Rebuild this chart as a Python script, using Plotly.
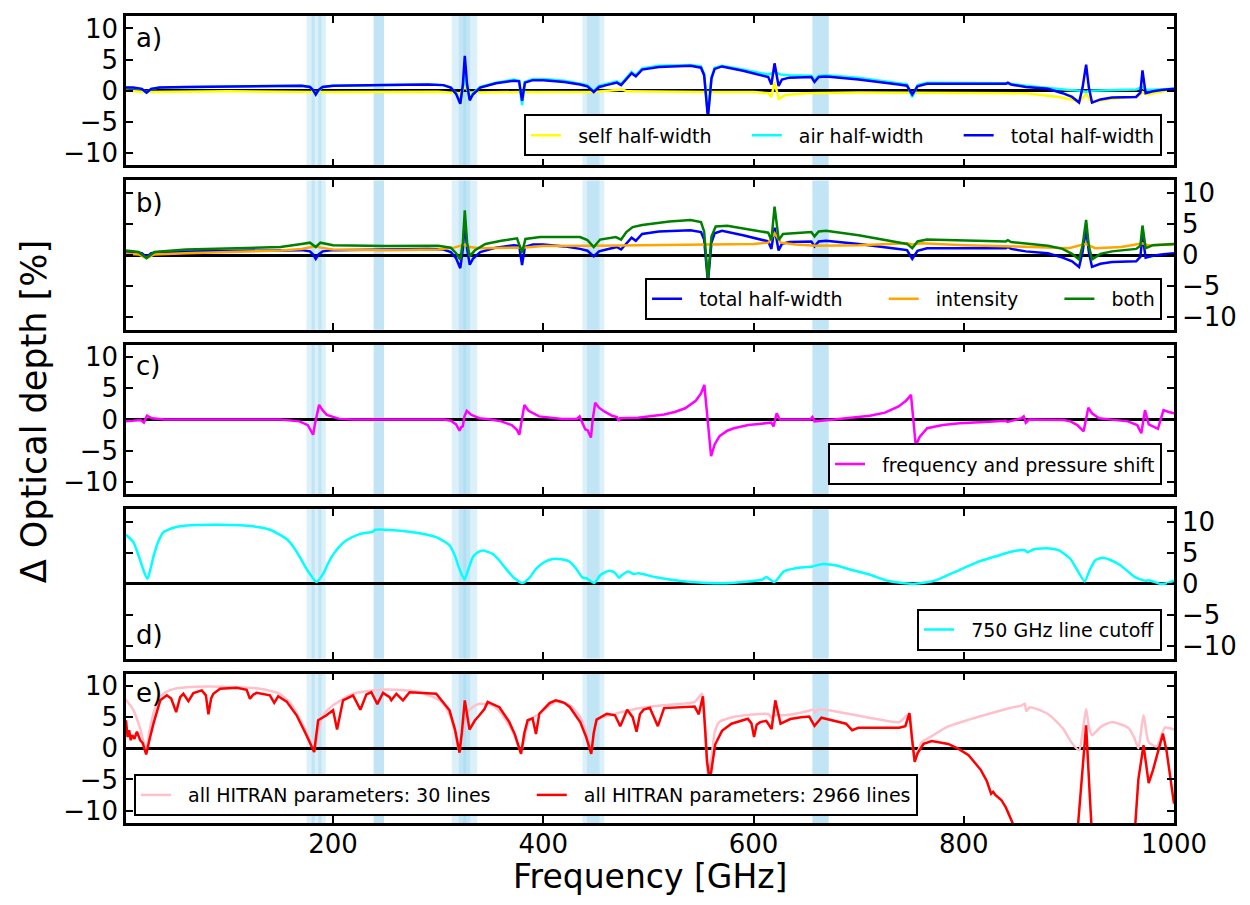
import plotly.graph_objects as go
from plotly.subplots import make_subplots

# ---------------- data ----------------
# panel a / b : total half-width
f_total = [3, 10, 18, 22.5, 27, 35, 60, 100, 150, 170, 178, 181, 183.5, 186, 190, 200, 250, 290, 305, 312, 317, 321,
           323.5, 325.3, 327.5, 330, 333, 340, 355, 372, 377, 379.8, 382.5, 390, 400, 420, 435, 442, 448, 453, 460,
           470, 474, 478, 484, 488, 494, 510, 540, 550, 553, 556.6, 560, 563, 570, 590, 606, 614, 617, 620, 623.8,
           627, 634, 655, 658, 662, 669, 700, 738, 746, 751, 756, 765, 800, 840, 842, 845, 859, 880, 894, 903,
           909.7, 913, 916.4, 919, 922, 930, 941, 964, 968, 970, 973, 980, 988, 1000]
v_total = [0.5, 0.5, 0.3, -0.3, 0.3, 0.5, 0.6, 0.7, 0.8, 0.8, 0.6, 0.1, -0.6, 0.1, 0.6, 0.8, 0.9, 1.0, 0.9, 0.5, -0.5, -2.1,
           1.0, 5.6, 1.0, -1.55, -0.6, 0.5, 1.2, 1.6, 1.5, -1.6, 1.3, 1.7, 1.7, 1.4, 1.0, 0.7, -0.2, 0.6, 0.9,
           1.3, 0.9, 1.6, 2.8, 2.3, 3.4, 3.8, 4.0, 3.7, 2.5, -4.3, 2.0, 3.5, 3.9, 3.2, 2.6, 2.2, 1.0, 4.4, 0.75,
           1.8, 2.1, 2.2, 1.4, 2.2, 2.3, 1.8, 1.0, 0.8, -0.6, 0.7, 1.1, 1.1, 1.1, 1.3, 1.0, 0.6, 0.3, -0.4, -1.0,
           -1.9, 0.5, 4.2, 0.5, -1.9, -1.4, -1.1, -1.0, -0.3, 3.25, -0.4, -0.1, 0.1, 0.3]

f_air = [3, 18, 22.5, 27, 35, 100, 170, 178, 183.5, 190, 200, 290, 305, 312, 317, 321, 323.5, 325.3, 327.5, 330, 333,
         340, 355, 372, 377, 379.8, 382.5, 390, 400, 420, 435, 442, 448, 453, 460, 470, 474, 478, 484, 488, 494, 510,
         540, 550, 553, 556.6, 560, 563, 570, 590, 606, 614, 620, 626, 634, 655, 658, 662, 669, 700, 738, 746, 751,
         756, 765, 800, 840, 859, 880, 900, 912, 916, 920, 940, 964, 970, 973, 985, 1000]
v_air = [0.5, 0.3, -0.3, 0.3, 0.5, 0.7, 0.8, 0.6, -0.5, 0.6, 0.8, 1.0, 0.9, 0.5, -0.4, -1.9, 0.5, 3.0, 0.5, -1.3, -0.4,
         0.6, 1.3, 1.8, 1.6, -2.3, 1.4, 1.9, 1.9, 1.6, 1.2, 0.9, -0.1, 0.8, 1.1, 1.5, 1.1, 1.8, 3.0, 2.5, 3.6, 4.0,
         4.15, 3.9, 2.7, -4.0, 2.2, 3.7, 4.0, 3.4, 2.8, 2.6, 2.9, 2.6, 2.5, 2.4, 1.7, 2.4, 2.5, 2.1, 1.2, 1.0, -1.0,
         0.9, 1.3, 1.3, 1.2, 0.8, 0.4, 0.1, 0.0, -0.2, 0.0, 0.1, 0.2, 0.6, 0.1, 0.2, 0.3]

f_self = [3, 22.5, 100, 183, 300, 321, 325.3, 330, 380, 448, 475, 480, 556, 600, 614, 617, 620, 624, 630, 650, 700,
          751, 800, 860, 890, 905, 909.7, 916.4, 922, 935, 960, 967, 970, 975, 990, 1000]
v_self = [0.0, -0.2, -0.1, -0.2, -0.15, -0.4, 0.6, -0.3, -0.2, -0.2, 0.2, -0.1, -0.2, -0.2, -0.4, -1.0, 1.3, -1.3, -0.7,
          -0.4, -0.3, -0.3, -0.3, -0.4, -1.0, -1.5, -1.9, -0.5, -1.9, -1.4, -1.0, -0.8, -0.2, -0.6, -0.1, 0.0]

# panel b
f_int = [3, 15, 22.5, 30, 60, 100, 150, 170, 180, 183.5, 188, 200, 250, 300, 315, 321, 325.3, 330, 340, 380, 400, 450,
         500, 550, 600, 614, 620, 626, 640, 660, 700, 746, 751, 760, 800, 850, 900, 916, 925, 950, 970, 975, 1000]
v_int = [0.2, 0.1, -0.5, 0.1, 0.3, 0.5, 0.75, 1.0, 1.3, 1.4, 1.2, 0.9, 0.8, 0.9, 1.2, 1.5, 1.7, 1.3, 1.1, 1.2, 1.45,
         1.5, 1.6, 1.75, 1.8, 2.0, 3.5, 2.0, 1.7, 1.5, 1.6, 1.9, 1.7, 1.9, 1.6, 1.4, 1.1, 1.8, 1.1, 1.3, 1.9, 1.6, 1.7]

f_both = [3, 15, 22.5, 30, 60, 100, 150, 170, 178, 183.5, 188, 200, 250, 300, 312, 317, 321, 323.5, 325.3, 327.5, 330,
          335, 345, 360, 375, 379.8, 383, 397, 435, 442, 448, 454, 469, 474, 479, 485, 494, 520, 540, 550, 553, 556.6,
          560, 564, 575, 600, 614, 617, 620, 624, 628, 655, 658, 662, 669, 700, 746, 751, 756, 765, 840, 842, 845,
          880, 894, 903, 909.7, 913, 916.4, 919, 922, 930, 941, 964, 968, 970, 973, 980, 1000]
v_both = [0.75, 0.5, -0.5, 0.5, 0.9, 1.1, 1.3, 1.8, 2.0, 1.3, 2.0, 1.6, 1.45, 1.5, 1.2, 0.3, -0.7, 2.0, 7.2, 2.0, -0.2,
          0.8, 1.8, 2.3, 2.7, 0.4, 2.6, 2.9, 2.9, 2.4, 1.3, 2.5, 2.9, 2.5, 3.7, 4.5, 4.85, 5.4, 5.65, 5.3, 3.8, -4.0,
          3.0, 4.6, 4.7, 4.0, 3.6, 2.4, 7.8, 2.4, 3.4, 3.7, 3.0, 3.8, 3.9, 3.2, 1.8, 1.1, 2.2, 2.5, 2.2, 2.4, 2.1,
          1.5, 1.0, 0.2, -0.7, 1.5, 5.65, 1.5, -0.7, 0.2, 0.6, 1.0, 1.5, 4.75, 1.1, 1.6, 1.8]

# panel c
f_shift = [3, 10, 17, 20, 23, 28, 40, 150, 168, 176, 181, 183, 186.7, 190, 194, 206, 220, 305, 312, 317, 320.3, 322,
           323.4, 325, 327.2, 331, 339, 350, 360, 370, 375, 377.2, 379.5, 382, 386, 396, 418, 432, 434.5, 436.5, 440,
           442, 445.3, 447, 449.4, 453, 458, 465.5, 470, 471.5, 473, 490, 502.8, 515, 525, 535, 545, 550, 553.2, 556,
           559.6, 563, 567.5, 575, 581.2, 595, 608.4, 616.9, 619, 622, 625, 640, 654, 656, 658, 676.5, 700, 710.7,
           725, 738, 745, 749.8, 752, 754.3, 758, 765.2, 780, 796, 820, 840, 841.5, 855, 857, 859, 862, 895, 901.5,
           908, 914, 916, 918.5, 922, 928.7, 945, 956, 965, 968.9, 972.4, 976, 984.7, 990, 995, 1000]
v_shift = [-0.3, -0.2, -0.1, -0.5, 0.6, 0.2, 0.0, 0.0, -0.3, -0.9, -2.45, -0.5, 2.35, 1.5, 0.75, 0.1, 0.0, 0.0, -0.2,
           -0.8, -1.8, -1.2, -1.1, 0.5, 1.4, 0.8, 0.2, 0.0, -0.3, -0.9, -1.7, -2.45, 0.0, 2.35, 1.4, 0.5, 0.1, 0.1,
           0.5, -0.3, -1.6, -1.7, -2.9, 0.0, 2.7, 1.9, 1.3, 0.6, 0.4, -0.2, 0.2, 0.3, 0.6, 0.8, 1.2, 1.8, 3.0, 4.2,
           5.55, 0.0, -5.9, -4.0, -2.7, -1.8, -1.4, -0.9, -0.6, -0.5, -1.1, 1.0, 0.0, 0.0, 0.0, 0.4, -0.3, 0.0, 0.4,
           0.6, 1.1, 2.1, 3.0, 3.95, 0.0, -4.2, -2.8, -1.4, -0.9, -0.6, -0.4, -0.2, -0.4, 0.2, 0.5, -0.5, 0.0, -0.1,
           -0.3, -0.9, -1.9, 0.0, 1.9, 1.0, 0.2, -0.1, -0.3, -0.9, -2.2, 1.5, -0.8, -1.5, 1.5, 1.2, 1.0]

# panel d
f_cut = [3, 10, 16.5, 20, 23.4, 26, 29, 33, 38.6, 46, 54.5, 70, 92.5, 124, 140, 155.8, 162, 168.4, 173, 178, 184.2,
         190.5, 195, 200, 206, 212.7, 225.3, 238, 240, 250.7, 276, 298, 310.8, 316, 320, 325, 329, 333, 337, 342.4,
         352, 358, 364.6, 372, 380.4, 387, 393, 400, 408.8, 417, 424.7, 431, 437.3, 441, 448.4, 454.8, 462.7, 468,
         472.1, 474, 480.7, 485.8, 490.8, 506, 520, 540, 574, 608.5, 612, 619.7, 628.9, 640, 656, 666, 680, 690, 710,
         727.6, 751.5, 772, 790, 812.9, 830, 847, 858, 860.6, 867.4, 881, 891, 901.5, 908, 915, 920, 925.2, 932, 940,
         949, 962.8, 973, 976, 986.7, 993, 1000]
v_cut = [7.9, 6.7, 3.8, 2.0, 0.8, 2.2, 4.3, 6.5, 8.3, 8.9, 9.25, 9.45, 9.5, 9.25, 8.7, 7.2, 6.0, 4.3, 2.9, 1.6, 0.3,
         1.6, 3.2, 4.7, 6.0, 7.0, 8.0, 8.4, 8.7, 8.7, 8.3, 7.5, 6.2, 4.5, 2.5, 0.7, 2.5, 4.3, 5.0, 5.35, 4.8, 3.8, 2.4,
         1.0, 0.15, 1.0, 2.4, 3.4, 4.0, 3.95, 3.6, 2.5, 1.0, 0.9, 0.15, 1.5, 2.1, 1.8, 1.0, 1.3, 2.0, 1.6, 1.7, 1.1,
         0.7, 0.3, 0.1, 0.7, 1.1, 0.3, 2.0, 2.5, 2.8, 3.2, 2.9, 2.4, 1.5, 0.5, 0.0, 0.5, 1.8, 3.5, 4.4, 5.25, 5.4, 5.1,
         5.6, 5.7, 5.35, 4.0, 2.2, 0.4, 2.3, 3.8, 4.2, 3.8, 3.0, 1.1, 0.5, 0.6, 0.0, 0.1, 0.5]

# panel e
f_30 = [3, 10.2, 16.5, 22.2, 25, 29.1, 33, 38.6, 48, 60.8, 92.5, 130.4, 149.4, 156, 162, 168, 174.7, 182, 185.5, 189,
        194, 200, 219, 244.3, 260, 282.3, 301.3, 307, 312.4, 316, 319.6, 323, 326.6, 332, 339.2, 351.9, 358, 364.6,
        372, 378.8, 383, 386.7, 396.2, 411.8, 425.3, 435.1, 441, 445.6, 448, 450.7, 466.3, 481.9, 493.6, 513.1, 544,
        551, 553.5, 557, 560, 563, 567.3, 582.9, 614, 617, 620, 629.6, 650, 656.9, 658.5, 661, 668.5, 707.4, 738.6,
        748.3, 750.5, 753.3, 757, 760, 770, 785.2, 805, 824.1, 845, 855.3, 858, 859.5, 863, 880, 894.2, 903, 909.7,
        913, 916.4, 919, 922, 930, 940.8, 956.4, 962, 966.1, 971, 975.9, 983.6, 991.4, 1000]
v_30 = [7.8, 6.1, 3.15, -0.3, 2.5, 5.55, 7.4, 8.75, 9.5, 9.8, 9.9, 9.55, 8.75, 7.8, 6.6, 4.8, 2.6, -0.3, 2.5, 4.75,
        6.0, 6.9, 8.75, 9.4, 9.4, 9.0, 7.7, 6.6, 4.75, 2.5, -0.3, 2.5, 5.3, 6.5, 7.15, 6.9, 6.0, 4.5, 2.3, -0.6, 2.5,
        4.5, 5.55, 7.45, 6.9, 5.0, 2.5, -0.6, 2.0, 4.6, 5.45, 6.1, 6.5, 6.9, 7.45, 8.75, 4.0, -4.8, -1.5, 2.5, 4.2,
        5.1, 5.5, 4.9, 5.3, 5.3, 5.9, 6.2, 5.65, 6.2, 6.2, 5.0, 4.2, 5.55, 2.0, -1.9, -0.2, 0.95, 2.0, 3.5, 4.6,
        5.55, 6.5, 6.9, 7.15, 6.0, 6.6, 5.5, 3.2, 0.8, -0.3, 2.5, 6.3, 3.5, 2.1, 3.4, 4.2, 3.3, 1.8, 0.0, 5.3, 0.95,
        0.3, 3.3, 3.0]

f_2966 = [3, 4.5, 6, 7.5, 9, 11, 13.4, 16.5, 19, 22.2, 25.5, 29.1, 35.6, 41.8, 46, 50.7, 54.5, 57.6, 62.4, 67.1, 75.1,
          79, 81.4, 84, 86.1, 92.5, 108.3, 117.8, 120.9, 124, 127.3, 139.9, 144, 147.8, 155.8, 165.3, 174.7, 182,
          185.8, 193.7, 200, 203.8, 209.5, 219, 226, 231.7, 236.4, 242.1, 247.5, 253.8, 255.4, 260.2, 266.5, 272.8,
          298.1, 310.8, 316, 320.3, 322.5, 325.3, 329.8, 335, 339.2, 344, 347.1, 358.2, 367.7, 373, 378.8, 382,
          385.1, 389.8, 393, 396.2, 405.9, 411.8, 416, 420, 425.3, 435.1, 440.8, 445.6, 448, 450.7, 460.4, 468.2,
          473.2, 479.8, 485, 488.7, 492, 495.4, 501.3, 509, 514.9, 530, 544, 547.9, 551.8, 554, 555.7, 558.4, 561,
          563.5, 570, 579, 594.6, 598, 600.5, 603, 606.3, 612.1, 617.2, 620.7, 625.7, 635, 645.2, 653, 658, 664.6,
          688, 693.8, 699.7, 738.6, 744.4, 748.3, 750.5, 753.3, 756, 761.8, 769.6, 785.2, 795, 804.6, 816.3, 822,
          826, 828, 830, 835.7, 840, 847.5, 860, 880, 905, 909.7, 916.4, 920, 924, 940, 960, 966.1, 971, 975.9, 980,
          989.5, 993, 1000]
v_2966 = [4.5, 1.8, 2.9, 1.3, 2.1, 1.5, 2.65, 1.3, 0.8, -1.0, 1.5, 3.95, 7.7, 8.5, 8.0, 5.8, 8.2, 8.75, 7.55, 8.85,
          9.3, 8.5, 5.45, 8.0, 8.75, 9.55, 9.7, 9.4, 7.95, 8.6, 8.9, 8.5, 7.3, 8.35, 7.5, 5.3, 2.1, -0.6, 4.5, 5.3,
          6.1, 3.0, 7.7, 8.5, 6.2, 8.65, 9.0, 7.1, 8.9, 8.2, 7.7, 8.75, 7.7, 9.0, 8.75, 6.1, 3.0, -0.7, 2.5, 7.7, 3.0,
          4.5, 5.3, 6.3, 7.45, 6.6, 4.2, 2.2, -0.9, 2.5, 4.5, 4.8, 2.3, 5.55, 7.25, 7.7, 7.5, 7.3, 6.6, 4.2, 1.8,
          -0.9, 2.5, 4.6, 5.55, 5.3, 3.55, 6.2, 5.0, 2.65, 5.5, 6.2, 6.5, 3.55, 6.45, 6.6, 6.7, 5.45, 8.35, 3.0,
          -2.0, -5.3, -2.0, 0.6, 2.8, 3.95, 4.75, 4.0, 1.8, 3.8, 4.2, 4.4, 3.1, 7.7, 3.95, 4.7, 5.0, 5.1, 3.6, 4.9,
          3.95, 2.9, 3.3, 3.3, 3.55, 5.65, 2.0, -2.2, -0.8, 0.7, 1.15, 0.7, -0.1, -1.1, -3.5, -5.3, -7.3, -7.0,
          -7.5, -8.3, -9.5, -12.5, -18, -25, -20, -10, 3.7, -8, -20, -30, -20, -5, 0.5, -5.6, -3.5, 2.35, -0.5, -8.9]

# channel bands (GHz)
band_lo = [174.7, 179.5, 185.8, 238.6, 238.6, 313.0, 319.6, 324.0, 437.3, 441.5, 656.0, 656.0]
band_hi = [193.1, 182.6, 189.0, 248.4, 248.4, 337.1, 330.4, 326.6, 458.0, 453.5, 671.5, 671.5]

panel_labels = ["a)", "b)", "c)", "d)", "e)"]
y_ticks = [-10, -5, 0, 5, 10]
x_ticks = [200, 400, 600, 800, 1000]

# ---------------- figure ----------------
fig = make_subplots(rows=5, cols=1, shared_xaxes=True, vertical_spacing=15 / 810)

LW = 2.5
FONT = "DejaVu Sans"
NB = "\u00a0"


def add(row, x, y, color, name, legend, pad=0, smooth=False):
    line = dict(color=color, width=LW)
    if smooth:
        line.update(shape="spline", smoothing=0.6)
    fig.add_trace(go.Scatter(x=x, y=y, mode="lines", line=line, name=NB * 2 + name + NB * pad,
                             legend=legend, showlegend=True), row=row, col=1)


add(1, f_self, v_self, "#FFFF00", "self half-width", "legend", pad=5)
add(1, f_air, v_air, "#00FFFF", "air half-width", "legend", pad=5)
add(1, f_total, v_total, "#0000FF", "total half-width", "legend")
add(2, f_total, v_total, "#0000FF", "total half-width", "legend2", pad=6)
add(2, f_int, v_int, "#FFA500", "intensity", "legend2", pad=6)
add(2, f_both, v_both, "#008000", "both", "legend2")
add(3, f_shift, v_shift, "#FF00FF", "frequency and pressure shift", "legend3")
add(4, f_cut, v_cut, "#00FFFF", "750 GHz line cutoff", "legend4", smooth=True)
add(5, f_30, v_30, "#FFC0CB", "all HITRAN parameters: 30 lines", "legend5", pad=6, smooth=True)
add(5, f_2966, v_2966, "#FF0000", "all HITRAN parameters: 2966 lines", "legend5")

shapes = []
for r in range(1, 6):
    sfx = "" if r == 1 else str(r)
    for lo, hi in zip(band_lo, band_hi):
        shapes.append(dict(type="rect", xref="x" + sfx, yref="y" + sfx + " domain", x0=lo, x1=hi, y0=0, y1=1,
                           fillcolor="rgba(135,206,235,0.3)", line=dict(width=0), layer="below"))

annotations = []
label_y = [0.85, 0.85, 0.86, 0.16, 0.87]
for r in range(1, 6):
    sfx = "" if r == 1 else str(r)
    annotations.append(dict(text=panel_labels[r - 1], xref="x" + sfx + " domain", yref="y" + sfx + " domain",
                            x=0.008, y=label_y[r - 1], xanchor="left", yanchor="middle", showarrow=False,
                            font=dict(size=26, color="black", family=FONT)))
annotations.append(dict(text="\u0394 Optical depth [%]", xref="paper", yref="paper", x=-0.087, y=0.51,
                        textangle=-90, showarrow=False, xanchor="center", yanchor="middle",
                        font=dict(size=35, color="black", family=FONT)))
annotations.append(dict(text="Frequency [GHz]", xref="paper", yref="paper", x=0.5, y=-0.0914,
                        showarrow=False, xanchor="center", yanchor="bottom", borderpad=0,
                        font=dict(size=33, color="black", family=FONT)))

fig.update_xaxes(range=[3, 1000], tickvals=x_ticks, ticks="inside", ticklen=7, tickwidth=1.5, tickcolor="black",
                 mirror="allticks", showline=True, linewidth=2.5, linecolor="black", showgrid=False, zeroline=False,
                 ticklabelstandoff=-4,
                 tickfont=dict(size=26, color="black", family=FONT))
for r in range(1, 6):
    fig.update_yaxes(range=[-12, 12], tickvals=y_ticks, ticks="inside", ticklen=7, tickwidth=1.5, tickcolor="black",
                     mirror="allticks", showline=True, linewidth=2.5, linecolor="black", showgrid=False,
                     zeroline=True, zerolinecolor="black", zerolinewidth=2.5,
                     side="left" if r in (1, 3, 5) else "right",
                     tickfont=dict(size=26, color="black", family=FONT), row=r, col=1)

leg_common = dict(orientation="h", bgcolor="white", bordercolor="black", borderwidth=2,
                  font=dict(size=19, color="black", family=FONT), itemwidth=30, xref="paper", yref="paper")
fig.update_layout(
    width=1234, height=889,
    margin=dict(l=118, r=67, t=5, b=74),
    plot_bgcolor="white", paper_bgcolor="white",
    font=dict(family=FONT, color="black"),
    shapes=shapes, annotations=annotations,
    legend=dict(x=0.9886, y=0.826, xanchor="right", yanchor="bottom", **leg_common),
    legend2=dict(x=0.9886, y=0.6235, xanchor="right", yanchor="bottom", **leg_common),
    legend3=dict(x=0.9886, y=0.4185, xanchor="right", yanchor="bottom", **leg_common),
    legend4=dict(x=0.9886, y=0.2136, xanchor="right", yanchor="bottom", **leg_common),
    legend5=dict(x=0.0076, y=0.0086, xanchor="left", yanchor="bottom", **leg_common),
)

fig.write_html("out.html")
